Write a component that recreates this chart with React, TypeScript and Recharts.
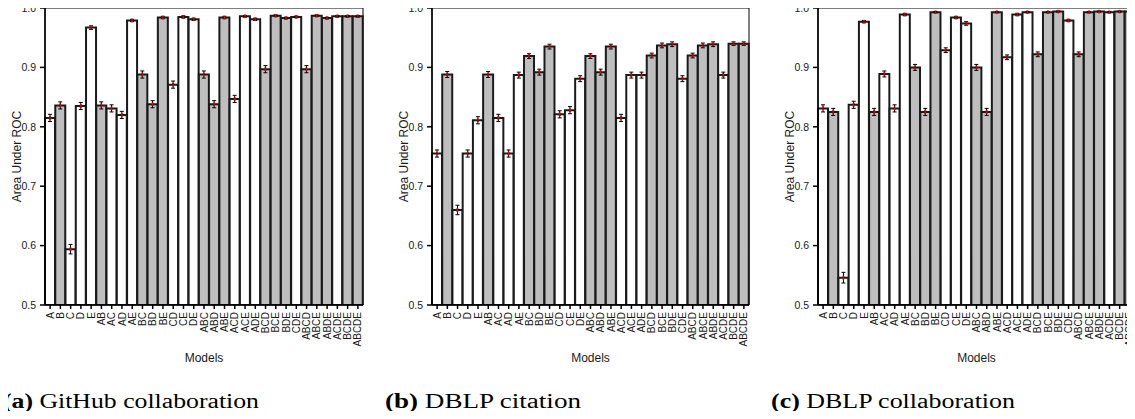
import { BarChart, Bar, Cell, XAxis, YAxis, ErrorBar, ReferenceArea } from 'recharts';

const models = ['A', 'B', 'C', 'D', 'E', 'AB', 'AC', 'AD', 'AE', 'BC', 'BD', 'BE', 'CD', 'CE', 'DE',
  'ABC', 'ABD', 'ABE', 'ACD', 'ACE', 'ADE', 'BCD', 'BCE', 'BDE', 'CDE',
  'ABCD', 'ABCE', 'ABDE', 'ACDE', 'BCDE', 'ABCDE'];

const yTicks = [0.5, 0.6, 0.7, 0.8, 0.9, 1.0];

// (a) GitHub collaboration
const githubAuc = [0.815, 0.836, 0.594, 0.835, 0.967, 0.836, 0.831, 0.820, 0.979, 0.888, 0.838, 0.984, 0.871, 0.985, 0.981,
  0.888, 0.838, 0.984, 0.847, 0.986, 0.981, 0.897, 0.987, 0.983, 0.985,
  0.897, 0.987, 0.983, 0.986, 0.986, 0.986];
const githubErr = [0.006, 0.006, 0.008, 0.006, 0.003, 0.006, 0.006, 0.006, 0.002, 0.006, 0.006, 0.002, 0.006, 0.002, 0.002,
  0.006, 0.006, 0.002, 0.006, 0.0015, 0.002, 0.006, 0.0015, 0.0015, 0.0015,
  0.006, 0.0015, 0.0015, 0.0015, 0.0015, 0.0015];

// (b) DBLP citation
const citationAuc = [0.755, 0.888, 0.660, 0.755, 0.811, 0.888, 0.815, 0.755, 0.887, 0.919, 0.892, 0.935, 0.821, 0.828, 0.881,
  0.919, 0.892, 0.935, 0.815, 0.887, 0.887, 0.920, 0.937, 0.939, 0.881,
  0.920, 0.937, 0.939, 0.887, 0.940, 0.940];
const citationErr = [0.006, 0.005, 0.008, 0.006, 0.006, 0.005, 0.006, 0.006, 0.005, 0.004, 0.005, 0.004, 0.006, 0.006, 0.005,
  0.004, 0.005, 0.004, 0.006, 0.005, 0.005, 0.004, 0.004, 0.004, 0.005,
  0.004, 0.004, 0.004, 0.005, 0.003, 0.003];

// (c) DBLP collaboration
const collabAuc = [0.831, 0.825, 0.546, 0.837, 0.977, 0.825, 0.889, 0.831, 0.989, 0.900, 0.825, 0.993, 0.929, 0.984, 0.974,
  0.900, 0.825, 0.993, 0.917, 0.989, 0.993, 0.922, 0.993, 0.994, 0.979,
  0.922, 0.993, 0.994, 0.993, 0.994, 0.994];
const collabErr = [0.006, 0.006, 0.009, 0.006, 0.002, 0.006, 0.005, 0.006, 0.002, 0.005, 0.006, 0.001, 0.004, 0.002, 0.003,
  0.005, 0.006, 0.001, 0.004, 0.002, 0.001, 0.004, 0.001, 0.001, 0.002,
  0.004, 0.001, 0.001, 0.001, 0.001, 0.001];

const FONT = '"Liberation Sans", Arial, sans-serif';

function ModelTick(props: any) {
  const { x, y, payload } = props;
  return (
    <text x={x} y={y} transform={`rotate(-90 ${x} ${y})`} textAnchor="end" dy="0.36em"
      fontSize={10} fontFamily={FONT} fill="#1a1a1a">
      {payload.value}
    </text>
  );
}

function Panel({ auc, err, plotLeft, plotWidth }: { auc: number[], err: number[], plotLeft: number, plotWidth: number }) {
  const rows = models.map((m, i) => ({ model: m, auc: auc[i], err: err[i], mark: 0.002 }));
  return (
    <div style={{ position: 'absolute', left: plotLeft - 45, top: 0 }}>
      <BarChart width={45 + plotWidth + 1} height={365} data={rows}
        margin={{ top: 8, right: 1, left: 0, bottom: 0 }} barCategoryGap={0} barGap={0}>
        <XAxis dataKey="model" interval={0} tick={<ModelTick />} tickSize={4} tickMargin={3} height={60}
          stroke="#000" strokeWidth={1.5}
          label={{ value: 'Models', position: 'insideBottom', offset: 3, fontSize: 12, fontFamily: FONT, fill: '#1a1a1a' }} />
        <YAxis type="number" domain={[0.5, 1]} ticks={yTicks} allowDataOverflow width={45}
          tickFormatter={(v: number) => v.toFixed(1)} tickSize={5} tickMargin={4}
          stroke="#000" strokeWidth={1.5}
          tick={{ fontSize: 10.5, fontFamily: FONT, fill: '#1a1a1a' }}
          label={{ value: 'Area Under ROC', angle: -90, position: 'insideLeft', offset: 17,
            style: { textAnchor: 'middle' }, fontSize: 12, fontFamily: FONT, fill: '#1a1a1a' }} />
        <Bar dataKey="auc" stroke="#1a1a1a" strokeWidth={2} isAnimationActive={false}>
          {rows.map((r) => (
            <Cell key={r.model} fill={r.model.includes('B') ? '#bebebe' : '#ffffff'} />
          ))}
          <ErrorBar dataKey="err" width={2} stroke="#000" strokeWidth={1} direction="y" isAnimationActive={false} />
          <ErrorBar dataKey="mark" width={1} stroke="#e00000" strokeWidth={1.2} direction="y" isAnimationActive={false} />
        </Bar>
        <ReferenceArea y1={0.5} y2={1} fill="none" fillOpacity={0} stroke="#000" strokeWidth={1} ifOverflow="visible" />
      </BarChart>
    </div>
  );
}

export default function App() {
  return (
    <div style={{ position: 'relative', width: 1135, height: 419, margin: -8, overflow: 'hidden', background: '#fff' }}>
      <Panel auc={githubAuc} err={githubErr} plotLeft={45} plotWidth={318} />
      <Panel auc={citationAuc} err={citationErr} plotLeft={432} plotWidth={317} />
      <Panel auc={collabAuc} err={collabErr} plotLeft={818} plotWidth={317} />
      <svg width={1135} height={419} style={{ position: 'absolute', left: 0, top: 0, pointerEvents: 'none' }}>
        <g fontFamily='"Liberation Serif", "Times New Roman", serif' fontSize={20} fill="#000">
          <text x={3} y={408} textLength={256} lengthAdjust="spacingAndGlyphs">
            <tspan fontWeight="bold">(a)</tspan> GitHub collaboration
          </text>
          <text x={385} y={408} textLength={196} lengthAdjust="spacingAndGlyphs">
            <tspan fontWeight="bold">(b)</tspan> DBLP citation
          </text>
          <text x={771} y={408} textLength={244} lengthAdjust="spacingAndGlyphs">
            <tspan fontWeight="bold">(c)</tspan> DBLP collaboration
          </text>
        </g>
      </svg>
    </div>
  );
}
